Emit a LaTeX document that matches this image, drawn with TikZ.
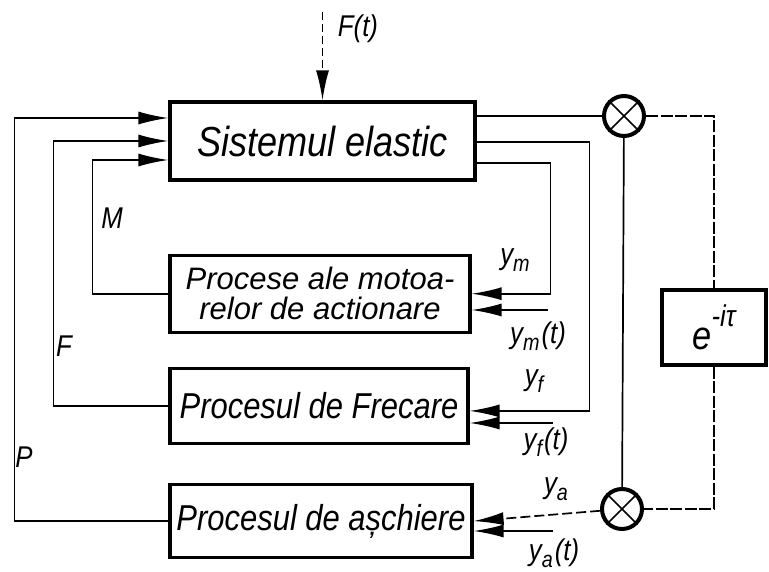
\documentclass[tikz,border=0pt]{standalone}
\usepackage{fontspec}
\setmainfont{Liberation Sans}[FakeStretch=0.86]
\newfontfamily\widefont{Liberation Sans}
\usetikzlibrary{arrows.meta,positioning,calc}
\newcommand{\lowidx}[1]{\raisebox{-0.45ex}{\fontsize{23}{23}\selectfont #1\kern2pt}}

\begin{document}
\begin{tikzpicture}[
  x=1pt, y=-1pt,
  blk/.style={draw, line width=3.2pt, minimum height=75pt, inner sep=2pt,
              align=center, font=\itshape\fontsize{36}{36}\selectfont},
  sig/.style={line width=1.7pt},
  arr/.style={sig, -{Latex[length=30pt,width=13pt]}},
  mult/.style={draw, circle, line width=4pt, minimum size=40pt, inner sep=0pt},
  lbl/.style={font=\itshape\fontsize{30}{30}\selectfont, inner sep=0pt},
  loopln/.style={sig, dash pattern=on 12pt off 2.5pt}
]
  \useasboundingbox (0,0) rectangle (769,572);

  % Blocks
  \node[blk, minimum width=305pt, minimum height=78pt,
        font=\itshape\fontsize{42}{42}\selectfont] (sys) at (322.5,141) {Sistemul elastic};
  \node[blk, minimum width=300pt, minimum height=77pt,
        font=\widefont\itshape\fontsize{31}{30}\selectfont,
        below=72pt of sys.south west, anchor=north west] (mot)
        {Procese ale motoa-\\relor de actionare};
  \node[blk, minimum width=298pt, below=33pt of mot.south west, anchor=north west] (frec)
        {Procesul de Frecare};
  \node[blk, minimum width=302pt, minimum height=73pt,
        below=38pt of frec.south west, anchor=north west] (asch)
        {Procesul de așchiere};
  \node[blk, minimum width=104pt, font=\itshape\fontsize{40}{40}\selectfont] (del)
        at (714,327.5) {e\raisebox{1.1ex}{\fontsize{30}{30}\selectfont -iτ}};

  % Multipliers
  \node[mult] (mulA) at (624,116) {};
  \node[mult] (mulB) at (622,509) {};
  \foreach \m in {mulA,mulB}
    \draw[line width=1.6pt] (\m.north east) -- (\m.south west)
                            (\m.north west) -- (\m.south east);

  % Feedback into the elastic system
  \draw[arr] (mot.west) -- ++(-76,0) |- ($(sys.west)+(0,19)$);
  \draw[arr] (frec.west) -- ++(-115,0) |- (sys.west);
  \draw[arr] (asch.west) -- ++(-154,0) |- ($(sys.west)+(0,-23)$);

  % Outputs of the elastic system
  \draw[sig] (sys.east |- mulA) -- (mulA);
  \draw[arr] ($(sys.east)+(0,1)$) -- ++(113,0) |- ($(frec.east)+(0,5)$);
  \draw[arr] ($(sys.east)+(0,22)$) -- ++(74,0) |- (mot.east);
  \draw[sig] (mulA) -- (mulB);

  % Delay loop
  \draw[loopln] (mulA) -- (mulA -| del) -- (del.north);
  \draw[loopln] (del.south) |- (mulB);
  \draw[arr, dash pattern=on 10pt off 4pt] (mulB) -- (asch.east);

  % External inputs
  \coordinate (ft) at ($(sys.north)+(0,-88)$);
  \coordinate (ymt) at (548,310);
  \coordinate (yft) at (553,423);
  \coordinate (yat) at (553,531);
  \draw[arr, dash pattern=on 8pt off 4pt] (ft) -- (sys.north);
  \draw[arr] (ymt) -- (ymt -| mot.east);
  \draw[arr] (yft) -- (yft -| frec.east);
  \draw[arr] (yat) -- (yat -| asch.east);

  % Labels
  \node[lbl] (lFt) at (358,29) {F(t)};
  \node[lbl] (lM) at (112,218) {M};
  \node[lbl] (lF) at (64,346) {F};
  \node[lbl] (lP) at (24,457) {P};
  \node[lbl] (lym) at (516,260) {y\lowidx{m}};
  \node[lbl] (lymt) at (538,336) {y\lowidx{m}(t)};
  \node[lbl] (lyf) at (535,381) {y\lowidx{f}};
  \node[lbl] (lyft) at (546,442) {y\lowidx{f}(t)};
  \node[lbl] (lya) at (557,489) {y\lowidx{a}};
  \node[lbl] (lyat) at (554,553) {y\lowidx{a}(t)};
\end{tikzpicture}
\end{document}
